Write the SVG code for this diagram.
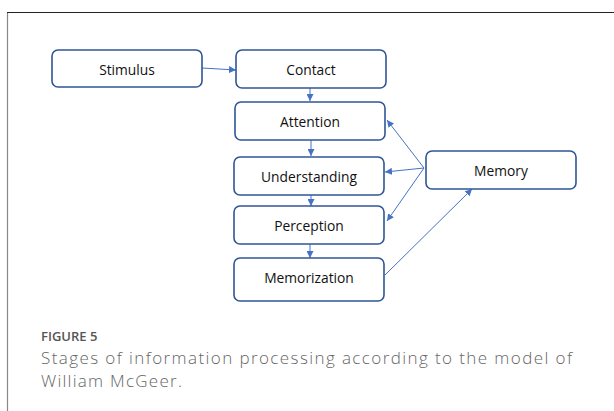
<svg xmlns="http://www.w3.org/2000/svg" width="614" height="411" viewBox="0 0 614 411">
<defs>
<marker id="ah" viewBox="0 0 10 10" refX="10" refY="5" markerWidth="7" markerHeight="7" markerUnits="userSpaceOnUse" orient="auto">
<path d="M0,0 L10,5 L0,10 z" fill="#4472C4"/>
</marker>
<style>
.box{fill:#fff;stroke:#2F5597;stroke-width:1.6}
.lbl{font-family:"Open Sans","Liberation Sans",sans-serif;font-size:13.8px;fill:#111;text-anchor:middle;dominant-baseline:central}
.con{stroke:#4472C4;stroke-width:1;fill:none;marker-end:url(#ah)}
.cap1{font-family:"Open Sans","Liberation Sans",sans-serif;font-size:13px;fill:#555;font-weight:600}
.cap2{font-family:"Open Sans","Liberation Sans",sans-serif;font-size:17px;fill:#666;font-weight:300}
</style>
</defs>
<rect width="614" height="411" fill="#fff"/>
<line x1="7.5" y1="12.5" x2="7.5" y2="411" stroke="#888" stroke-width="1.2"/>
<line x1="7" y1="12.5" x2="614" y2="12.5" stroke="#222" stroke-width="1.2"/>
<g id="connectors">
<line class="con" x1="202" y1="68" x2="236" y2="70"/>
<line class="con" x1="310" y1="88" x2="310" y2="101"/>
<line class="con" x1="311" y1="140" x2="311" y2="156"/>
<line class="con" x1="311" y1="195" x2="311" y2="206"/>
<line class="con" x1="310" y1="244" x2="310" y2="258"/>
<line class="con" x1="424" y1="168" x2="387" y2="120"/>
<line class="con" x1="424" y1="168" x2="385" y2="172"/>
<line class="con" x1="424" y1="168" x2="387" y2="221"/>
<line class="con" x1="385" y1="275" x2="472" y2="189"/>
</g>
<g id="stimulus"><rect class="box" x="52" y="50" width="150" height="37" rx="6"/><text class="lbl" x="127" y="69">Stimulus</text></g>
<g id="contact"><rect class="box" x="236" y="50" width="150" height="38" rx="6"/><text class="lbl" x="311" y="69">Contact</text></g>
<g id="attention"><rect class="box" x="235" y="102" width="150" height="38" rx="6"/><text class="lbl" x="310" y="121">Attention</text></g>
<g id="understanding"><rect class="box" x="234" y="157" width="150" height="38" rx="6"/><text class="lbl" x="309" y="176">Understanding</text></g>
<g id="perception"><rect class="box" x="234" y="206" width="150" height="38" rx="6"/><text class="lbl" x="309" y="225">Perception</text></g>
<g id="memorization"><rect class="box" x="234" y="258" width="150" height="43" rx="6"/><text class="lbl" x="309" y="277">Memorization</text></g>
<g id="memory"><rect class="box" x="426" y="151" width="150" height="38" rx="6"/><text class="lbl" x="501" y="170">Memory</text></g>
<text class="cap1" x="41" y="341">FIGURE 5</text>
<text class="cap2" x="41" y="364" textLength="531" lengthAdjust="spacing">Stages of information processing according to the model of</text>
<text class="cap2" x="41" y="387" textLength="141" lengthAdjust="spacing">William McGeer.</text>
</svg>
